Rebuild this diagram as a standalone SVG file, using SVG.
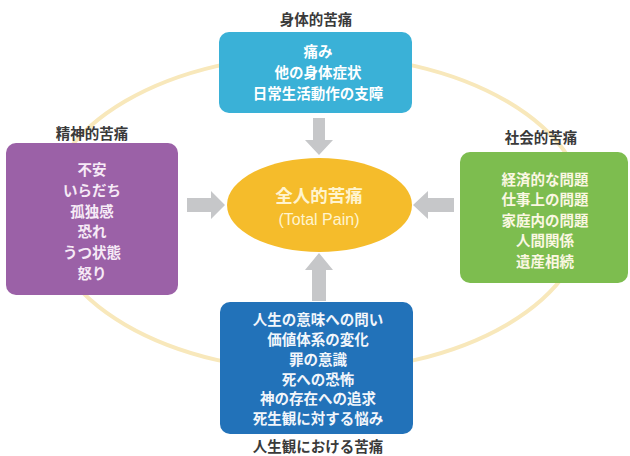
<svg xmlns="http://www.w3.org/2000/svg" width="630" height="456" viewBox="0 0 630 456">
<style>
text{font-family:"Noto Sans CJK JP","Liberation Sans",sans-serif;text-anchor:middle;dominant-baseline:central}
.title{font-size:14.5px;font-weight:bold;fill:#3a3a3a}
.body{font-size:14.5px;font-weight:bold}
.arrow{fill:#c6c7c9}
</style>
<rect width="630" height="456" fill="#ffffff"/>
<ellipse id="ring" cx="316" cy="213" rx="270" ry="158" fill="none" stroke="#f8e8bb" stroke-width="4"/>
<g id="connectors" class="arrow">
<polygon points="313,118 325,118 325,140 333,140 319,155 305,140 313,140"/>
<polygon points="187,198 211,198 211,191 225,205 211,219 211,212 187,212"/>
<polygon points="454,198 428,198 428,191 413,205 428,219 428,212 454,212"/>
<polygon points="312,301 326,301 326,270 333,270 319,253 305,270 312,270"/>
</g>
<g id="center">
<ellipse cx="319.5" cy="205" rx="92.5" ry="47" fill="#f5bc2b"/>
<text x="319" y="194" style="font-size:17.5px;font-weight:bold;fill:#fff4cf">全人的苦痛</text>
<text x="319" y="219" style="font-family:'Liberation Sans',sans-serif;font-size:16px;fill:#fff4cf">(Total Pain)</text>
</g>
<g id="physical">
<text class="title" x="316" y="18">身体的苦痛</text>
<rect x="219" y="32" width="193" height="81" rx="10" fill="#3ab1d7"/>
<g class="body" fill="#ffffff">
<text x="318" y="50">痛み</text>
<text x="318" y="71">他の身体症状</text>
<text x="318" y="92">日常生活動作の支障</text>
</g>
</g>
<g id="mental">
<text class="title" x="92" y="132">精神的苦痛</text>
<rect x="6" y="143" width="172" height="152" rx="10" fill="#9b61a7"/>
<g class="body" fill="#f6eaf6">
<text x="92" y="168">不安</text>
<text x="92" y="189">いらだち</text>
<text x="92" y="210">孤独感</text>
<text x="92" y="230">恐れ</text>
<text x="92" y="251">うつ状態</text>
<text x="92" y="272">怒り</text>
</g>
</g>
<g id="social">
<text class="title" x="541" y="136">社会的苦痛</text>
<rect x="460" y="152" width="168" height="131" rx="10" fill="#7dbd4f"/>
<g class="body" fill="#fbf7e2">
<text x="545" y="178">経済的な問題</text>
<text x="545" y="198">仕事上の問題</text>
<text x="545" y="219">家庭内の問題</text>
<text x="545" y="239">人間関係</text>
<text x="545" y="260">遺産相続</text>
</g>
</g>
<g id="spiritual">
<rect x="220" y="302" width="193" height="132" rx="10" fill="#2272b9"/>
<g class="body" fill="#f2f6fb">
<text x="318" y="318">人生の意味への問い</text>
<text x="318" y="338">価値体系の変化</text>
<text x="318" y="358">罪の意識</text>
<text x="318" y="378">死への恐怖</text>
<text x="318" y="397">神の存在への追求</text>
<text x="318" y="417">死生観に対する悩み</text>
</g>
<text class="title" x="318" y="445">人生観における苦痛</text>
</g>
</svg>
